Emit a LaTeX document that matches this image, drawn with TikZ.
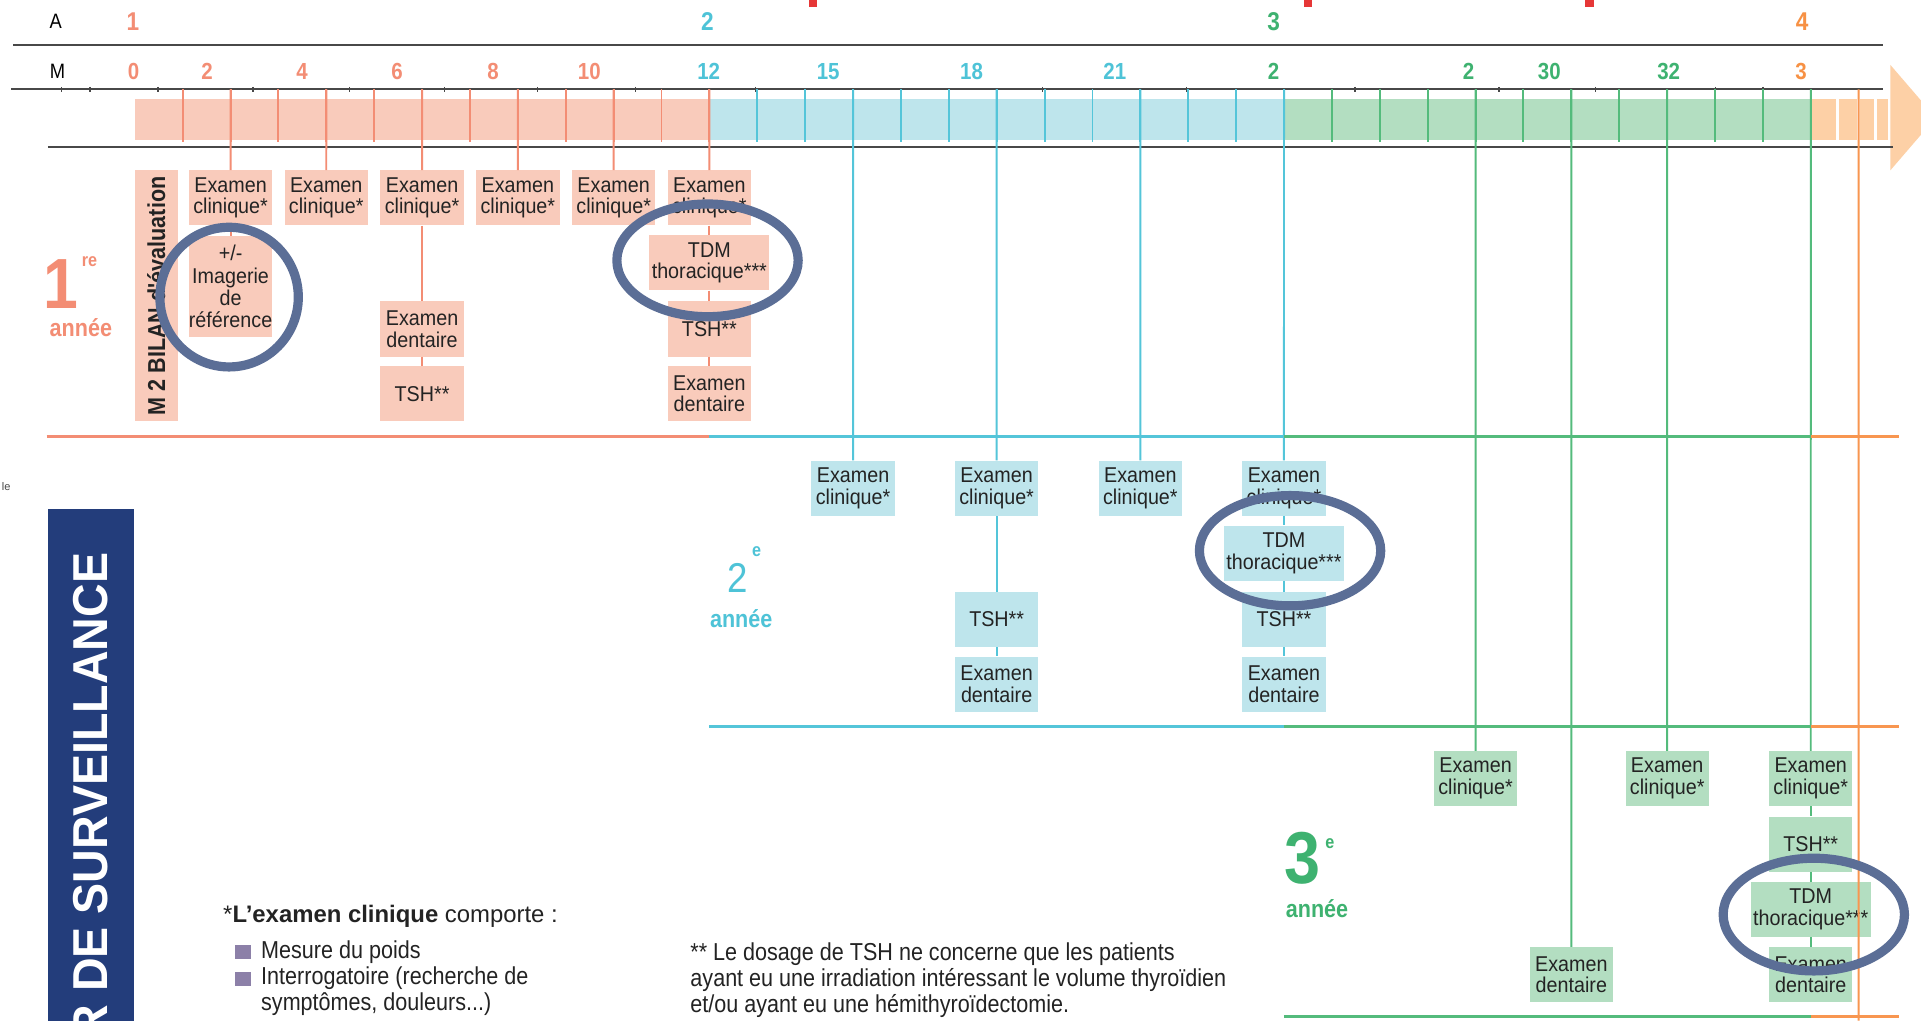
\documentclass[tikz,border=0pt]{standalone}
\usepackage{fontspec}
\setmainfont{Liberation Sans}
\newfontfamily\nar[FakeStretch=0.92]{Liberation Sans}
\newfontfamily\narr[FakeStretch=0.88]{Liberation Sans}
\newfontfamily\semi[FakeStretch=0.95]{Liberation Sans}
\definecolor{salL}{RGB}{249,203,187}
\definecolor{salD}{RGB}{243,141,116}
\definecolor{cyaL}{RGB}{190,229,236}
\definecolor{cyaD}{RGB}{84,197,217}
\definecolor{greL}{RGB}{179,222,193}
\definecolor{greD}{RGB}{84,187,124}
\definecolor{orL}{RGB}{253,208,166}
\definecolor{orD}{RGB}{248,150,80}
\definecolor{navy}{RGB}{35,61,123}
\definecolor{ringc}{RGB}{91,110,150}
\definecolor{rulc}{RGB}{72,72,72}
\definecolor{txtc}{RGB}{35,35,35}
\definecolor{bulc}{RGB}{140,128,168}
\definecolor{redm}{RGB}{230,55,55}
\definecolor{y1c}{RGB}{243,141,116}
\definecolor{y2c}{RGB}{78,195,215}
\definecolor{y3c}{RGB}{62,178,112}
\definecolor{y4c}{RGB}{247,145,68}
\begin{document}
\begin{tikzpicture}[x=1pt,y=-1pt,
  bx/.style={rectangle,inner sep=0pt,minimum width=68pt,minimum height=45pt,align=center,text=txtc,font=\nar\fontsize{17.5}{17.7}\selectfont},
  bxw/.style={bx,minimum width=98pt},
  sal/.style={fill=salL}, cya/.style={fill=cyaL}, gre/.style={fill=greL},
  vl/.style={line width=1.6pt},
  tk/.style={line width=1.6pt},
  hl/.style={line width=2.6pt},
  ruler/.style={draw=rulc,line width=1.8pt},
  ring/.style={draw=ringc,line width=7.5pt},
  hdr/.style={inner sep=0pt,text=black,font=\narr\fontsize{17}{17}\selectfont},
  yr/.style={inner sep=0pt,font=\narr\bfseries\fontsize{21}{21}\selectfont},
  mo/.style={inner sep=0pt,font=\narr\bfseries\fontsize{19}{19}\selectfont},
  an/.style={inner sep=0pt,font=\narr\bfseries\fontsize{20}{20}\selectfont},
  sup/.style={inner sep=0pt,font=\narr\bfseries\fontsize{15}{15}\selectfont},
  body/.style={inner sep=0pt,anchor=base west,text=txtc,font=\narr\fontsize{20}{21.3}\selectfont},
  bul/.style={fill=bulc,minimum width=13pt,minimum height=12pt,inner sep=0pt}
]
\fill[white] (0,0) rectangle (1568,833);
\useasboundingbox (0,0) rectangle (1568,833);
\begin{scope}
\clip (0,0) rectangle (1568,833);

% red marks at top
\fill[redm] (660,0) rectangle (667,5.5);
\fill[redm] (1064,0) rectangle (1071,5.5);
\fill[redm] (1294,0) rectangle (1301,5.5);

% header labels
\node[hdr] (lA) at (45.5,17.7) {A};
\node[hdr] (lM) at (47,58.5) {M};
\node[yr,text=y1c] (an1) at (108.5,17.7) {1};
\node[yr,text=y2c] (an2) at (577.5,17.7) {2};
\node[yr,text=y3c] (an3) at (1039.6,17.7) {3};
\node[yr,text=y4c] (an4) at (1471,17.7) {4};
\node[mo,text=salD] (l0) at (109,58.5) {0};
\node[mo,text=salD] (l2) at (169,58.5) {2};
\node[mo,text=salD] (l4) at (246.5,58.5) {4};
\node[mo,text=salD] (l6) at (324,58.5) {6};
\node[mo,text=salD] (l8) at (402.5,58.5) {8};
\node[mo,text=salD] (l10) at (481,58.5) {10};
\node[mo,text=y2c] (l12) at (578.5,58.5) {12};
\node[mo,text=y2c] (l15) at (676,58.5) {15};
\node[mo,text=y2c] (l18) at (793,58.5) {18};
\node[mo,text=y2c] (l21) at (910,58.5) {21};
\node[mo,text=y3c] (l24) at (1039.6,58.5) {2};
\node[mo,text=y3c] (l28) at (1198.6,58.5) {2};
\node[mo,text=y3c] (l30) at (1264.6,58.5) {30};
\node[mo,text=y3c] (l32) at (1362,58.5) {32};
\node[mo,text=y4c] (l36) at (1470,58.5) {3};

% arrow head and bar
\fill[orL] (1543,53) -- (1580,96) -- (1543,139) -- cycle;
\fill[salL] (110,81) rectangle (579,114.3);
\fill[cyaL] (579,81) rectangle (1048,114.3);
\fill[greL] (1048,81) rectangle (1478,114.3);
\fill[orL] (1478,81) rectangle (1541,114.3);
\draw[white,line width=2pt] (1500,81) -- (1500,114.3) (1517.1,81) -- (1517.1,114.3) (1531,81) -- (1531,114.3);

% ruler lines
\draw[ruler] (11,36.7) -- (1537,36.7);
\draw[ruler] (9,72.9) -- (1537,72.9);
\draw[ruler] (39,119.7) -- (1545,119.7);
\foreach \x in {50,73.5,129,206.5,285,362.5,438.5,518.5,616.5,851,968.6,1106,1223.6,1302,1400,1439}
  \draw[rulc,line width=1pt] (\x,71) -- (\x,75);

% month coordinates and short ticks
\foreach \m in {0,...,36} {\coordinate (m\m) at ({110+39.086*\m},73);}
\foreach \m in {1,...,12} \draw[tk,salD] (m\m) -- ++(0,43);
\foreach \m in {13,...,24} \draw[tk,cyaD] (m\m) -- ++(0,43);
\foreach \m in {25,...,35} \draw[tk,greD] (m\m) -- ++(0,43);

% ===== year 1 boxes =====
\node[sal,rectangle,inner sep=0pt,minimum width=35pt,minimum height=205pt] (bil) at (127.5,241.5) {};
\node[rotate=90,inner sep=0pt,text=txtc,font=\narr\bfseries\fontsize{20}{20}\selectfont] (bilt) at (bil.center) {M 2 BILAN d'évaluation};
\node[bx,sal] (b1a) at (188.2,161.5) {Examen\\clinique*};
\node[bx,sal,minimum height=82pt,font=\nar\fontsize{17.5}{18.3}\selectfont] (b1b) at (188.2,234) {+/-\\Imagerie\\de\\référence};
\node[bx,sal] (b2a) at (266.3,161.5) {Examen\\clinique*};
\node[bx,sal] (b3a) at (344.5,161.5) {Examen\\clinique*};
\node[bx,sal] (b3b) at (344.5,268.5) {Examen\\dentaire};
\node[bx,sal] (b3c) at (344.5,321.5) {TSH**};
\node[bx,sal] (b4a) at (422.7,161.5) {Examen\\clinique*};
\node[bx,sal] (b5a) at (500.9,161.5) {Examen\\clinique*};
\node[bx,sal] (b6a) at (579,161.5) {Examen\\clinique*};
\node[bxw,sal] (b6b) at (579,214.5) {TDM\\thoracique***};
\node[bx,sal] (b6c) at (579,268.5) {TSH**};
\node[bx,sal] (b6d) at (579,321.5) {Examen\\dentaire};

% ===== year 2 boxes =====
\node[bx,cya] (c1a) at (696.3,398.5) {Examen\\clinique*};
\node[bx,cya] (c2a) at (813.5,398.5) {Examen\\clinique*};
\node[bx,cya] (c2b) at (813.5,505.5) {TSH**};
\node[bx,cya] (c2c) at (813.5,558.5) {Examen\\dentaire};
\node[bx,cya] (c3a) at (930.8,398.5) {Examen\\clinique*};
\node[bx,cya] (c4a) at (1048,398.5) {Examen\\clinique*};
\node[bxw,cya] (c4b) at (1048,451.5) {TDM\\thoracique***};
\node[bx,cya] (c4c) at (1048,505.5) {TSH**};
\node[bx,cya] (c4d) at (1048,558.5) {Examen\\dentaire};

% ===== year 3 boxes =====
\node[bx,gre] (d1a) at (1204.4,635.5) {Examen\\clinique*};
\node[bx,gre] (d2a) at (1282.6,795.5) {Examen\\dentaire};
\node[bx,gre] (d3a) at (1360.8,635.5) {Examen\\clinique*};
\node[bx,gre] (d4a) at (1478,635.5) {Examen\\clinique*};
\node[bx,gre] (d4b) at (1478,689) {TSH**};
\node[bxw,gre] (d4c) at (1478,742.3) {TDM\\thoracique***};
\node[bx,gre] (d4d) at (1478,795.5) {Examen\\dentaire};

% ===== connectors =====
\draw[vl,salD] (m2) -- (b1a.north);
\draw[vl,salD] (b1a.south) -- (b1b.north);
\draw[vl,salD] (m4) -- (b2a.north);
\draw[vl,salD] (m6) -- (b3a.north);
\draw[vl,salD] (b3a.south) -- (b3b.north);
\draw[vl,salD] (b3b.south) -- (b3c.north);
\draw[vl,salD] (m8) -- (b4a.north);
\draw[vl,salD] (m10) -- (b5a.north);
\draw[vl,salD] (m12) -- (b6a.north);
\draw[vl,salD] (b6a.south) -- (b6b.north);
\draw[vl,salD] (b6b.south) -- (b6c.north);
\draw[vl,salD] (b6c.south) -- (b6d.north);
\draw[vl,cyaD] (m15) -- (c1a.north);
\draw[vl,cyaD] (m18) -- (c2a.north);
\draw[vl,cyaD] (c2a.south) -- (c2b.north);
\draw[vl,cyaD] (c2b.south) -- (c2c.north);
\draw[vl,cyaD] (m21) -- (c3a.north);
\draw[vl,cyaD] (m24) -- (c4a.north);
\draw[vl,cyaD] (c4a.south) -- (c4b.north);
\draw[vl,cyaD] (c4b.south) -- (c4c.north);
\draw[vl,cyaD] (c4c.south) -- (c4d.north);
\draw[vl,greD] (m28) -- (d1a.north);
\draw[vl,greD] (m30) -- (d2a.north);
\draw[vl,greD] (m32) -- (d3a.north);
\draw[vl,greD] (m35) -- (d4a.north);
\draw[vl,greD] (d4a.south) -- (d4b.north);
\draw[vl,greD] (d4b.south) -- (d4c.north);
\draw[vl,greD] (d4c.south) -- (d4d.north);
\coordinate (oend) at (1517.1,833);
\draw[vl,orD] (m36) -- (oend);

% ===== section lines =====
\draw[hl,salD] (38,356) -- (579,356);
\draw[hl,cyaD] (579,356) -- (1048,356);
\draw[hl,greD] (1048,356) -- (1478,356);
\draw[hl,orD] (1478,356) -- (1550,356);
\draw[hl,cyaD] (579,593) -- (1048,593);
\draw[hl,greD] (1048,593) -- (1478,593);
\draw[hl,orD] (1478,593) -- (1550,593);
\draw[hl,greD] (1048,830) -- (1478,830);
\draw[hl,orD] (1478,830) -- (1550,830);

% ===== year labels =====
\node[inner sep=0pt,text=y1c,font=\narr\bfseries\fontsize{58}{58}\selectfont] (n1) at (50,231.5) {1};
\node[sup,text=y1c] (n1s) at (73,213.5) {re};
\node[an,text=y1c] (n1a) at (66,267.5) {année};
\node[inner sep=0pt,text=y2c,font=\narr\fontsize{34}{34}\selectfont] (n2) at (602,472) {2};
\node[sup,text=y2c] (n2s) at (617.5,450.5) {e};
\node[an,text=y2c] (n2a) at (605,505) {année};
\node[inner sep=0pt,text=y3c,font=\narr\bfseries\fontsize{60}{60}\selectfont] (n3) at (1063.5,700.7) {3};
\node[sup,text=y3c] (n3s) at (1085.5,688.5) {e};
\node[an,text=y3c] (n3a) at (1075,742) {année};

% ===== left navy band =====
\fill[navy] (39.5,415.5) rectangle (109,833);
\node[rotate=90,anchor=east,inner sep=0pt,text=white,font=\semi\bfseries\fontsize{40}{40}\selectfont] (surv) at (74,451) {R DE SURVEILLANCE};
\node[inner sep=0pt,text=rulc,font=\fontsize{9}{9}\selectfont] (le) at (5,397) {le};

% ===== footnotes =====
\node[anchor=base west,inner sep=0pt,text=txtc,font=\fontsize{19.5}{19.5}\selectfont] (fn1) at (182,753) {*\textbf{L’examen clinique} comporte :};
\node[bul] (q1) at (198.5,777) {};
\node[bul] (q2) at (198.5,799) {};
\node[body] (f1) at (213,782.2) {Mesure du poids};
\node[body] (f2) at (213,803.9) {Interrogatoire (recherche de};
\node[body] (f3) at (213,825.2) {symptômes, douleurs...)};
\node[body] (g1) at (563.4,783.6) {** Le dosage de TSH ne concerne que les patients};
\node[body] (g2) at (563.4,804.9) {ayant eu une irradiation intéressant le volume thyroïdien};
\node[body] (g3) at (563.4,826.2) {et/ou ayant eu une hémithyroïdectomie.};

% ===== highlight rings =====
\draw[ring] (187,242.5) ellipse [x radius=56.5pt, y radius=57pt];
\draw[ring] (577.5,212.5) ellipse [x radius=74pt, y radius=46pt];
\draw[ring] (1053,449.5) ellipse [x radius=74pt, y radius=45pt];
\draw[ring] (1480.5,746.5) ellipse [x radius=74pt, y radius=46pt];
\end{scope}
\end{tikzpicture}
\end{document}
